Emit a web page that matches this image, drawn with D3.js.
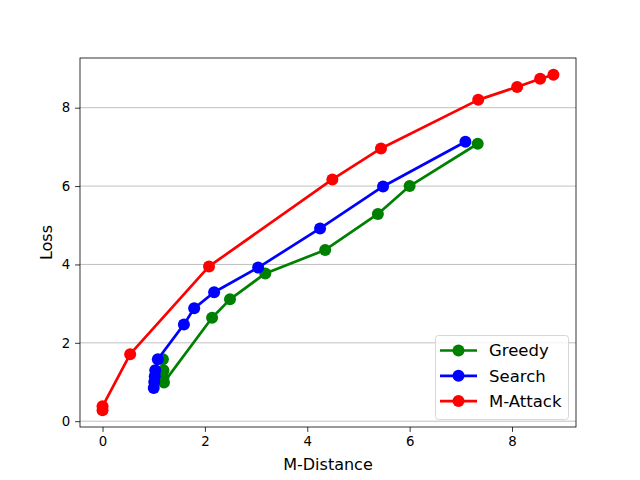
<!DOCTYPE html>
<html>
<head>
<meta charset="utf-8">
<script src="https://cdn.jsdelivr.net/npm/d3@7"></script>
<style>
  body { margin: 0; background: #fff; }
  svg { font-family: "DejaVu Sans", sans-serif; }
</style>
</head>
<body>
<svg width="640" height="480"></svg>
<script>
// series data (x = M-Distance, y = Loss)
const seriesNames = ["Greedy", "Search", "M-Attack"];
const seriesColors = ["green", "blue", "red"];
const greedyX = [1.18, 1.19, 1.19, 1.2, 2.14, 2.49, 3.18, 4.35, 5.38, 6.0, 7.33];
const greedyY = [1.58, 1.3, 1.1, 0.99, 2.64, 3.11, 3.77, 4.37, 5.29, 6.0, 7.08];
const searchX = [1.0, 1.01, 1.02, 1.03, 1.08, 1.59, 1.79, 2.18, 3.04, 4.25, 5.48, 7.09];
const searchY = [0.85, 1.0, 1.15, 1.3, 1.58, 2.47, 2.88, 3.29, 3.92, 4.92, 5.99, 7.13];
const attackX = [0.0, 0.0, 0.54, 2.08, 4.49, 5.44, 7.34, 8.1, 8.55, 8.81];
const attackY = [0.28, 0.38, 1.71, 3.95, 6.17, 6.96, 8.2, 8.53, 8.74, 8.84];
const xTicks = [0, 2, 4, 6, 8];
const yTicks = [0, 2, 4, 6, 8];

const seriesX = [greedyX, searchX, attackX];
const seriesY = [greedyY, searchY, attackY];

const svg = d3.select("svg");
const margin = { left: 80, right: 64, top: 58, bottom: 53 };
const W = 640, H = 480;

// domains with matplotlib's 5% padding
const allX = seriesX.flat(), allY = seriesY.flat();
const xMin = d3.min(allX), xMax = d3.max(allX);
const yMin = d3.min(allY), yMax = d3.max(allY);
const xPad = (xMax - xMin) * 0.05, yPad = (yMax - yMin) * 0.05;

const x = d3.scaleLinear().domain([xMin - xPad, xMax + xPad]).range([margin.left, W - margin.right]);
const y = d3.scaleLinear().domain([yMin - yPad, yMax + yPad]).range([H - margin.bottom, margin.top]);

// horizontal gridlines
svg.append("g").selectAll("line").data(yTicks).enter().append("line")
  .attr("x1", margin.left).attr("x2", W - margin.right)
  .attr("y1", d => y(d)).attr("y2", d => y(d))
  .attr("stroke", "#b0b0b0").attr("stroke-width", 0.8);

// axes
const xAxis = svg.append("g").attr("transform", `translate(0, ${H - margin.bottom})`)
  .call(d3.axisBottom(x).tickValues(xTicks).tickSize(4.9).tickPadding(4.9).tickFormat(d3.format("d")));
const yAxis = svg.append("g").attr("transform", `translate(${margin.left}, 0)`)
  .call(d3.axisLeft(y).tickValues(yTicks).tickSize(4.9).tickPadding(4.9).tickFormat(d3.format("d")));
[xAxis, yAxis].forEach(a => {
  a.select(".domain").remove();
  a.selectAll("text").attr("font-size", 13.3).attr("font-family", "DejaVu Sans").attr("fill", "#000");
  a.selectAll("line").attr("stroke", "#000").attr("stroke-width", 0.8);
});

// lines + markers
const line = d3.line().x(d => x(d[0])).y(d => y(d[1]));
seriesNames.forEach((name, i) => {
  const pts = seriesX[i].map((v, j) => [v, seriesY[i][j]]);
  const g = svg.append("g");
  g.append("path").datum(pts)
    .attr("d", line).attr("fill", "none")
    .attr("stroke", seriesColors[i]).attr("stroke-width", 2.7)
    .attr("stroke-linejoin", "round");
  g.selectAll("circle").data(pts).enter().append("circle")
    .attr("cx", d => x(d[0])).attr("cy", d => y(d[1]))
    .attr("r", 6).attr("fill", seriesColors[i]);
});

// frame
svg.append("rect")
  .attr("x", margin.left).attr("y", margin.top)
  .attr("width", W - margin.left - margin.right).attr("height", H - margin.top - margin.bottom)
  .attr("fill", "none").attr("stroke", "#000").attr("stroke-width", 0.8);

// axis labels
svg.append("text").attr("x", (margin.left + W - margin.right) / 2).attr("y", 470)
  .attr("text-anchor", "middle").attr("font-size", 16).text("M-Distance");
svg.append("text").attr("transform", `translate(52, ${(margin.top + H - margin.bottom) / 2}) rotate(-90)`)
  .attr("text-anchor", "middle").attr("font-size", 16).text("Loss");

// legend
const legend = svg.append("g");
legend.append("rect")
  .attr("x", 435.5).attr("y", 335.5).attr("width", 133).attr("height", 84).attr("rx", 3)
  .attr("fill", "rgba(255,255,255,0.8)").attr("stroke", "#d6d6d6").attr("stroke-width", 1);
seriesNames.forEach((name, i) => {
  const ly = 350.5 + i * 25.3;
  legend.append("line").attr("x1", 440).attr("x2", 477).attr("y1", ly).attr("y2", ly)
    .attr("stroke", seriesColors[i]).attr("stroke-width", 2.7);
  legend.append("circle").attr("cx", 458.5).attr("cy", ly).attr("r", 6).attr("fill", seriesColors[i]);
  legend.append("text").attr("x", 489).attr("y", ly).attr("dy", "0.36em")
    .attr("font-size", 16.5).text(name);
});
</script>
</body>
</html>
